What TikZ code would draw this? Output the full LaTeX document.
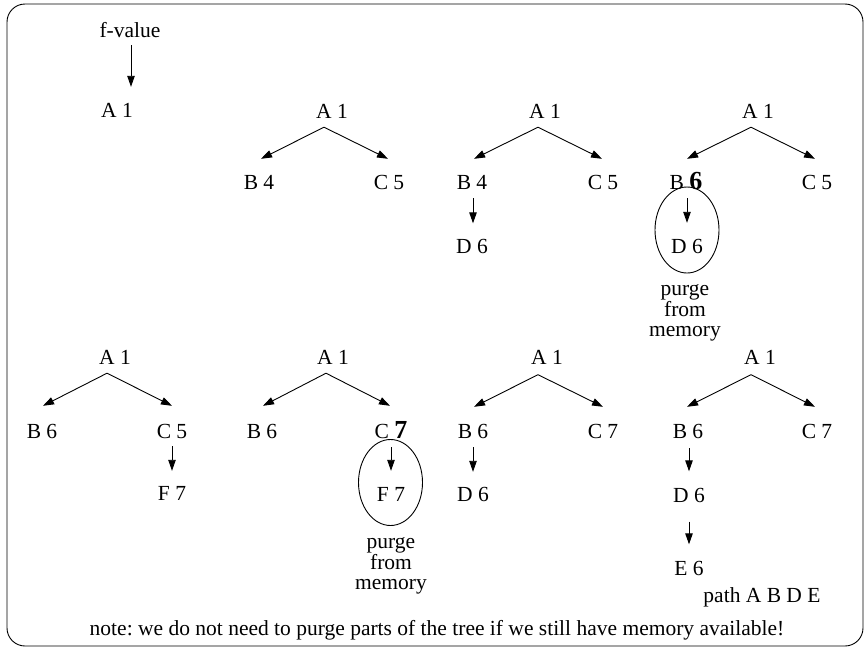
\documentclass[tikz,border=0pt]{standalone}
\usepackage{fontspec}
\setmainfont{Liberation Serif}
\usetikzlibrary{arrows.meta,shapes.geometric}
\frenchspacing
\newcommand\bignum[1]{{\fontsize{26}{26}\selectfont\bfseries #1}}
\begin{document}
\begin{tikzpicture}[x=1pt,y=-1pt,
  lbl/.style={font=\fontsize{21.5}{24}\selectfont, inner sep=0pt, text height=14pt, text depth=0pt},
  purgetext/.style={font=\fontsize{21.5}{20.5}\selectfont, inner sep=0pt, align=center},
  arr/.style={-{Triangle[length=11pt,width=7.5pt]}, line width=0.9pt},
  purged/.style={draw, ellipse, line width=0.9pt, minimum width=64pt, minimum height=86pt, inner sep=0pt}]
\useasboundingbox (0,0) rectangle (867,648);
\draw[line width=0.9pt, rounded corners=18pt] (7,4) rectangle (863,646);

% legend: the number is the f-value
\node[lbl] (t0f) at (130,30) {f-value};
\node[lbl] (t0a) at (117,110) {A 1};
\draw[arr] ([xshift=1pt,yshift=-8pt]t0f.south) -- ([xshift=14pt,yshift=16pt]t0a.north);

% step 1: expand A
\node[lbl] (t1a) at (332,111) {A 1};
\node[lbl] (t1b) at (259,182) {B 4};
\node[lbl] (t1c) at (389,182) {C 5};
\draw[arr] ([xshift=-8pt,yshift=-9pt]t1a.south) -- ([xshift=2pt,yshift=16pt]t1b.north);
\draw[arr] ([xshift=-8pt,yshift=-9pt]t1a.south) -- ([xshift=-1pt,yshift=16pt]t1c.north);

% step 2: expand B
\node[lbl] (t2a) at (545,111) {A 1};
\node[lbl] (t2b) at (472,182) {B 4};
\node[lbl] (t2c) at (603,182) {C 5};
\node[lbl] (t2d) at (472,246.5) {D 6};
\draw[arr] ([xshift=-7pt,yshift=-9pt]t2a.south) -- ([xshift=2pt,yshift=16pt]t2b.north);
\draw[arr] ([xshift=-7pt,yshift=-9pt]t2a.south) -- ([xshift=-1pt,yshift=16pt]t2c.north);
\draw[arr] ([xshift=1pt,yshift=-9pt]t2b.south) -- ([xshift=1pt,yshift=16pt]t2d.north);

% step 3: memory full, D is purged and B backs up its value
\node[lbl] (t3a) at (758,111) {A 1};
\node[lbl] (t3b) at (686,182) {B \bignum{6}};
\node[lbl] (t3c) at (817,182) {C 5};
\node[lbl] (t3d) at (687,246) {D 6};
\node[purged] (t3e) at (687,230) {};
\node[purgetext] (t3p) at (685,313) {purge\\from\\memory};
\draw[arr] ([xshift=-7pt,yshift=-9pt]t3a.south) -- ([xshift=1pt,yshift=16pt]t3b.north);
\draw[arr] ([xshift=-7pt,yshift=-9pt]t3a.south) -- ([xshift=-2pt,yshift=16pt]t3c.north);
\draw[arr] ([yshift=-9pt]t3b.south -| t3d) -- ([yshift=16pt]t3d.north);

% step 4: expand C
\node[lbl] (t4a) at (115,357.5) {A 1};
\node[lbl] (t4b) at (42,431) {B 6};
\node[lbl] (t4c) at (172,431) {C 5};
\node[lbl] (t4f) at (172,493) {F 7};
\draw[arr] ([xshift=-8pt,yshift=-8.5pt]t4a.south) -- ([xshift=1pt,yshift=18pt]t4b.north);
\draw[arr] ([xshift=-8pt,yshift=-8.5pt]t4a.south) -- ([yshift=18pt]t4c.north);
\draw[arr] ([yshift=-8pt]t4c.south) -- ([yshift=15pt]t4f.north);

% step 5: F is purged and C backs up its value
\node[lbl] (t5a) at (333,357.5) {A 1};
\node[lbl] (t5b) at (262,431) {B 6};
\node[lbl] (t5c) at (391,431) {C \bignum{7}};
\node[lbl] (t5f) at (391,494) {F 7};
\node[purged] (t5e) at (390.5,482.5) {};
\node[purgetext] (t5p) at (391,566) {purge\\from\\memory};
\draw[arr] ([xshift=-7pt,yshift=-8.5pt]t5a.south) -- ([xshift=1pt,yshift=18pt]t5b.north);
\draw[arr] ([xshift=-7pt,yshift=-8.5pt]t5a.south) -- ([xshift=-1pt,yshift=18pt]t5c.north);
\draw[arr] ([yshift=-9pt]t5c.south) -- ([yshift=16pt]t5f.north);

% step 6: expand B again
\node[lbl] (t6a) at (547,357.5) {A 1};
\node[lbl] (t6b) at (473,431) {B 6};
\node[lbl] (t6c) at (603,431) {C 7};
\node[lbl] (t6d) at (473,494) {D 6};
\draw[arr] ([xshift=-9pt,yshift=-10pt]t6a.south) -- ([xshift=1pt,yshift=17pt]t6b.north);
\draw[arr] ([xshift=-9pt,yshift=-10pt]t6a.south) -- ([yshift=17pt]t6c.north);
\draw[arr] ([yshift=-9pt]t6b.south) -- ([yshift=15pt]t6d.north);

% step 7: reach the goal E
\node[lbl] (t7a) at (760,357.5) {A 1};
\node[lbl] (t7b) at (688,431) {B 6};
\node[lbl] (t7c) at (817,431) {C 7};
\node[lbl] (t7d) at (689,495.5) {D 6};
\node[lbl] (t7e) at (689,568.5) {E 6};
\node[lbl] (t7p) at (762,595) {path A B D E};
\draw[arr] ([xshift=-9pt,yshift=-10pt]t7a.south) -- ([xshift=-1pt,yshift=17pt]t7b.north);
\draw[arr] ([xshift=-9pt,yshift=-10pt]t7a.south) -- ([xshift=-2pt,yshift=17pt]t7c.north);
\draw[arr] ([yshift=-10pt]t7b.south -| t7d) -- ([yshift=17pt]t7d.north);
\draw[arr] ([yshift=-19pt]t7d.south) -- ([yshift=17pt]t7e.north);

\node[lbl] (note) at (437,628) {note: we do not need to purge parts of the tree if we still have memory available!};
\end{tikzpicture}
\end{document}
